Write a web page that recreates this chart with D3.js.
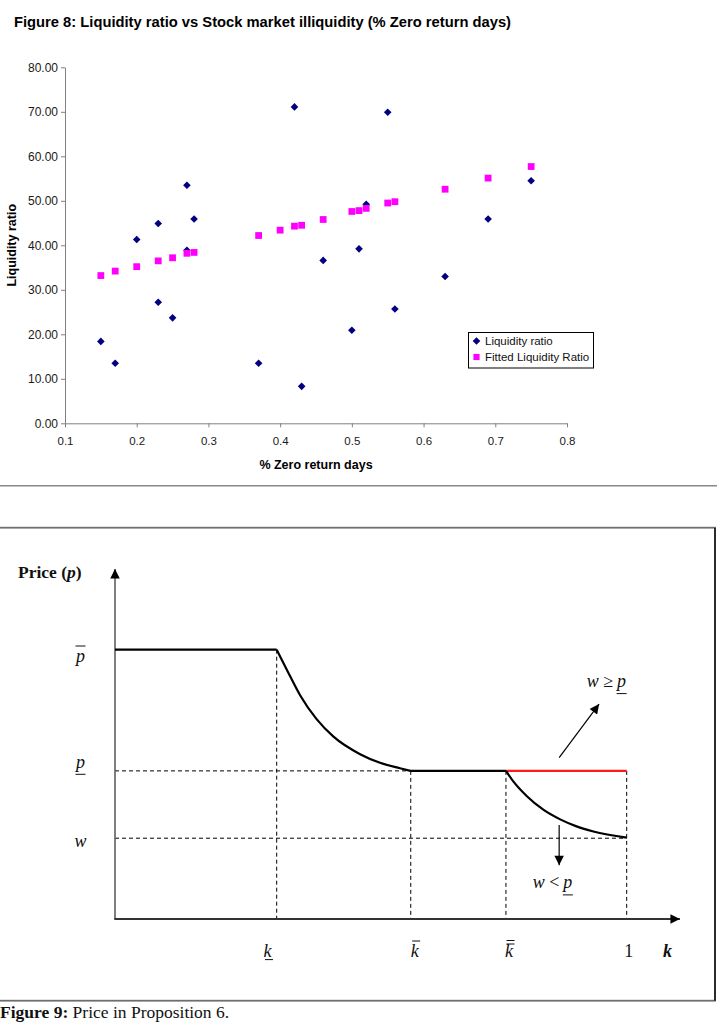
<!DOCTYPE html>
<html>
<head>
<meta charset="utf-8">
<script src="https://cdn.jsdelivr.net/npm/d3@7"></script>
<style>
  body { margin: 0; background: #fff; }
  svg { display: block; }
</style>
</head>
<body>
<svg id="page"></svg>
<script>
// ---- Figure 8 data ----
const zeroDays = [0.15, 0.17, 0.20, 0.23, 0.23, 0.25, 0.27, 0.27, 0.28, 0.37, 0.42, 0.43, 0.46, 0.50, 0.51, 0.52, 0.55, 0.56, 0.63, 0.69, 0.75];
const liqRatio = [18.4, 13.5, 41.3, 44.9, 27.2, 23.7, 53.5, 38.9, 45.9, 13.5, 71.1, 8.3, 36.6, 20.9, 39.2, 49.2, 69.9, 25.7, 33.0, 45.9, 54.5];
const fitDays = [0.15, 0.17, 0.20, 0.23, 0.25, 0.27, 0.28, 0.37, 0.40, 0.42, 0.43, 0.46, 0.50, 0.51, 0.52, 0.55, 0.56, 0.63, 0.69, 0.75];
const fitRatio = [33.2, 34.2, 35.2, 36.5, 37.2, 38.2, 38.4, 42.2, 43.4, 44.3, 44.5, 45.8, 47.6, 47.8, 48.3, 49.5, 49.8, 52.6, 55.1, 57.7];
const xTicks = [0.1, 0.2, 0.3, 0.4, 0.5, 0.6, 0.7, 0.8];
const yTicks = [0, 10, 20, 30, 40, 50, 60, 70, 80];
const seriesNames = ["Liquidity ratio", "Fitted Liquidity Ratio"];

// ---- Figure 9 data (schematic) ----
const kLevels = [0.316, 0.578, 0.764, 1.0];      // k_, k-bar, k-double-bar, 1
const kDecor = ["under", "over", "double", ""];
const kText = ["k", "k", "k", "1"];
const pLevels = [1.0, 0.55, 0.30];              // p-bar, p_, w
const pDecor = ["over", "under", ""];
const pText = ["p", "p", "w"];
const fallK = [0.316, 0.336, 0.362, 0.394, 0.427, 0.479, 0.518, 0.557, 0.578];
const fallP = [1.0, 0.925, 0.830, 0.742, 0.677, 0.612, 0.580, 0.560, 0.55];
const dropK = [0.764, 0.778, 0.805, 0.837, 0.870, 0.902, 0.935, 1.0];
const dropP = [0.55, 0.512, 0.456, 0.406, 0.370, 0.344, 0.325, 0.302];
const upArrow = [[0.868, 0.599], [0.946, 0.798]];
const downArrow = [[0.868, 0.349], [0.868, 0.20]];
const kMax = 1.104;
const pMax = 1.3;

const W = 717, H = 1030;
const sans = "'Liberation Sans', Arial, sans-serif";
const serif = "'Liberation Serif', 'Times New Roman', serif";

const svg = d3.select("#page").attr("width", W).attr("height", H);

// ================= Figure 8 =================
const x = d3.scaleLinear().domain([0.1, 0.8]).range([65, 567]);
const y = d3.scaleLinear().domain([0, 80]).range([423.3, 67.3]);

svg.append("text")
    .attr("x", 14).attr("y", 27)
    .attr("font-family", sans).attr("font-weight", "bold").attr("font-size", 15)
    .attr("textLength", 497).attr("lengthAdjust", "spacingAndGlyphs")
    .text("Figure 8: Liquidity ratio vs Stock market illiquidity (% Zero return days)");

const yAxis = svg.append("g")
    .attr("transform", `translate(${x(0.1)},0)`)
    .call(d3.axisLeft(y).tickValues(yTicks).tickFormat(d3.format(".2f")).tickSize(4).tickSizeOuter(0).tickPadding(3));

const xAxis = svg.append("g")
    .attr("transform", `translate(0,${y(0)})`)
    .call(d3.axisBottom(x).tickValues(xTicks).tickFormat(d3.format(".1")).tickSize(4).tickSizeOuter(0).tickPadding(10));

[xAxis, yAxis].forEach(a => {
    a.select(".domain").attr("stroke", "#808080");
    a.selectAll(".tick line").attr("stroke", "#808080");
    a.selectAll(".tick text").attr("font-family", sans).attr("fill", "#1a1a1a");
});
yAxis.selectAll(".tick text").attr("font-size", 12);
xAxis.selectAll(".tick text").attr("font-size", 11.5);

svg.append("text")
    .attr("x", (x.range()[0] + x.range()[1]) / 2).attr("y", 469)
    .attr("text-anchor", "middle")
    .attr("font-family", sans).attr("font-weight", "bold").attr("font-size", 12.5)
    .text("% Zero return days");

svg.append("text")
    .attr("transform", `translate(16,${(y.range()[0] + y.range()[1]) / 2}) rotate(-90)`)
    .attr("text-anchor", "middle")
    .attr("font-family", sans).attr("font-weight", "bold").attr("font-size", 12.5)
    .text("Liquidity ratio");

const diamond = d3.symbol(d3.symbolSquare, 29)();
const square = d3.symbol(d3.symbolSquare, 46)();

svg.append("g").selectAll("path")
    .data(d3.range(zeroDays.length))
    .join("path")
    .attr("d", diamond)
    .attr("transform", i => `translate(${x(zeroDays[i])},${y(liqRatio[i])}) rotate(45)`)
    .attr("fill", "#000080");

svg.append("g").selectAll("path")
    .data(d3.range(fitDays.length))
    .join("path")
    .attr("d", square)
    .attr("transform", i => `translate(${x(fitDays[i])},${y(fitRatio[i])})`)
    .attr("fill", "#ff00ff");

// legend
const legend = svg.append("g").attr("transform", "translate(468.5,332.5)");
legend.append("rect").attr("width", 125).attr("height", 35.5)
    .attr("fill", "#fff").attr("stroke", "#000").attr("stroke-width", 1);
seriesNames.forEach((name, i) => {
    const row = legend.append("g").attr("transform", `translate(8,${8.5 + i * 16})`);
    row.append("path")
        .attr("d", i === 0 ? diamond : d3.symbol(d3.symbolSquare, 38)())
        .attr("transform", i === 0 ? "rotate(45)" : null)
        .attr("fill", i === 0 ? "#000080" : "#ff00ff");
    row.append("text").attr("x", 8.5).attr("dy", "0.35em")
        .attr("font-family", sans).attr("font-size", 11.5).attr("fill", "#111")
        .text(name);
});

// separator rule
svg.append("line")
    .attr("x1", 0).attr("x2", W).attr("y1", 485.7).attr("y2", 485.7)
    .attr("stroke", "#888").attr("stroke-width", 1.5);

// ================= Figure 9 =================
svg.append("rect")
    .attr("x", -3).attr("y", 527.7).attr("width", 718).attr("height", 473)
    .attr("fill", "none").attr("stroke", "#6e6e6e").attr("stroke-width", 1.8);
svg.append("line")
    .attr("x1", 715).attr("x2", 715).attr("y1", 527.7).attr("y2", 1000.7)
    .attr("stroke", "#222").attr("stroke-width", 1.8);

const defs = svg.append("defs");
defs.append("marker")
    .attr("id", "arr").attr("viewBox", "0 0 10 10")
    .attr("refX", 10).attr("refY", 5)
    .attr("markerWidth", 10).attr("markerHeight", 9.5)
    .attr("markerUnits", "userSpaceOnUse").attr("orient", "auto")
    .append("path").attr("d", "M0,0L10,5L0,10Z").attr("fill", "#000");

const kx = d3.scaleLinear().domain([0, 1]).range([115, 626.7]);
const py = d3.scaleLinear().domain([0, 1]).range([919, 649.7]);
const diag = svg.append("g");

// dashed guides
diag.selectAll(".hguide")
    .data([pLevels[1], pLevels[2]])
    .join("line")
    .attr("x1", kx(0)).attr("x2", d => d === pLevels[1] ? kx(kLevels[1]) : kx(1))
    .attr("y1", d => py(d)).attr("y2", d => py(d))
    .attr("stroke", "#000").attr("stroke-width", 1).attr("stroke-dasharray", "4,3");

const vTops = [pLevels[0], pLevels[1], pLevels[1], pLevels[1]];
diag.selectAll(".vguide")
    .data(kLevels)
    .join("line")
    .attr("x1", d => kx(d)).attr("x2", d => kx(d))
    .attr("y1", (d, i) => py(vTops[i])).attr("y2", py(0))
    .attr("stroke", "#000").attr("stroke-width", 1).attr("stroke-dasharray", "4,3");

// axes
diag.append("line")
    .attr("x1", kx(0)).attr("x2", kx(0)).attr("y1", py(0)).attr("y2", py(pMax))
    .attr("stroke", "#555").attr("stroke-width", 1.5).attr("marker-end", "url(#arr)");
diag.append("line")
    .attr("x1", kx(0) - 0.7).attr("x2", kx(kMax)).attr("y1", py(0)).attr("y2", py(0))
    .attr("stroke", "#333").attr("stroke-width", 2).attr("marker-end", "url(#arr)");

// price path
const straight = d3.line().x(d => kx(d[0])).y(d => py(d[1]));
const smooth = d3.line().x(d => kx(d[0])).y(d => py(d[1])).curve(d3.curveMonotoneX);
const blk = { stroke: "#000", width: 2.2 };

diag.append("path")
    .attr("d", straight([[0, pLevels[0]], [kLevels[0], pLevels[0]]]))
    .attr("fill", "none").attr("stroke", blk.stroke).attr("stroke-width", blk.width);
diag.append("path")
    .attr("d", smooth(fallK.map((k, i) => [k, fallP[i]])))
    .attr("fill", "none").attr("stroke", blk.stroke).attr("stroke-width", blk.width);
diag.append("path")
    .attr("d", straight([[kLevels[1], pLevels[1]], [kLevels[2], pLevels[1]]]))
    .attr("fill", "none").attr("stroke", blk.stroke).attr("stroke-width", blk.width);
diag.append("path")
    .attr("d", straight([[kLevels[2], pLevels[1]], [kLevels[3], pLevels[1]]]))
    .attr("fill", "none").attr("stroke", "#ff1a1a").attr("stroke-width", 2.2);
diag.append("path")
    .attr("d", smooth(dropK.map((k, i) => [k, dropP[i]])))
    .attr("fill", "none").attr("stroke", blk.stroke).attr("stroke-width", blk.width);

// annotation arrows
[upArrow, downArrow].forEach(a => {
    diag.append("line")
        .attr("x1", kx(a[0][0])).attr("y1", py(a[0][1]))
        .attr("x2", kx(a[1][0])).attr("y2", py(a[1][1]))
        .attr("stroke", "#000").attr("stroke-width", 1.2).attr("marker-end", "url(#arr)");
});

// math-style labels
function mathLabel(xp, yp, str, deco, opt = {}) {
    const t = diag.append("text")
        .attr("x", xp).attr("y", yp)
        .attr("text-anchor", opt.anchor || "middle")
        .attr("font-family", serif).attr("font-size", opt.size || 18)
        .attr("font-style", opt.italic === false ? "normal" : "italic")
        .attr("font-weight", opt.bold ? "bold" : "normal")
        .attr("fill", "#111")
        .text(str);
    const b = t.node().getBBox();
    const x1 = b.x + 1.5, x2 = b.x + b.width + 0.5;
    const seg = yy => diag.append("line").attr("x1", x1).attr("x2", x2)
        .attr("y1", yy).attr("y2", yy).attr("stroke", "#111").attr("stroke-width", 1);
    if (deco === "over") seg(yp - 16);
    if (deco === "double") { seg(yp - 16.5); seg(yp - 13); }
    if (deco === "under") seg(yp + (opt.under || 6.6));
    return b;
}

const pBase = [662, 767.7, 846.7];
pText.forEach((s, i) => mathLabel(80.5, pBase[i], s, pDecor[i]));

const kCenters = [267.5, 414.7, 509, 628.7];
kText.forEach((s, i) => mathLabel(kCenters[i], 957, s, kDecor[i],
    { under: 2.6, italic: s !== "1" }));
mathLabel(667.6, 957, "k", "", { bold: true });

// region notes
function relation(xp, yp, sym) {
    const t = diag.append("text").attr("x", xp).attr("y", yp)
        .attr("font-family", serif).attr("font-size", 18).attr("fill", "#111");
    t.append("tspan").attr("font-style", "italic").text("w");
    t.append("tspan").text(` ${sym}`);
    const end = xp + t.node().getComputedTextLength();
    mathLabel(end + 4, yp, "p", "under", { anchor: "start" });
}
relation(586.7, 687, "\u2265");
relation(532.7, 888.3, "<");

// Price (p)
const pl = diag.append("text").attr("x", 18).attr("y", 578)
    .attr("font-family", serif).attr("font-size", 17.5).attr("font-weight", "bold").attr("fill", "#111");
pl.append("tspan").text("Price (");
pl.append("tspan").attr("font-style", "italic").text("p");
pl.append("tspan").text(")");

// caption
const cap = svg.append("text").attr("x", 0).attr("y", 1018)
    .attr("font-family", serif).attr("font-size", 17.5).attr("fill", "#111");
cap.append("tspan").attr("font-weight", "bold").text("Figure 9:");
cap.append("tspan").text(" Price in Proposition 6.");
</script>
</body>
</html>
